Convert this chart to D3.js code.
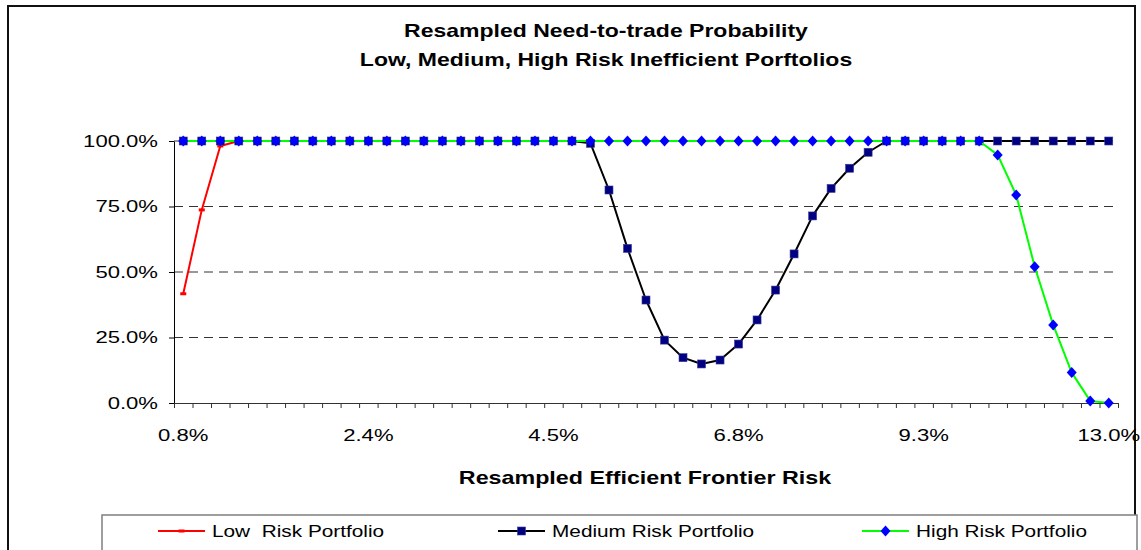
<!DOCTYPE html>
<html><head><meta charset="utf-8">
<script src="https://cdn.jsdelivr.net/npm/d3@7"></script>
<style>
body{margin:0;background:#fff;}
svg text{font-family:"Liberation Sans",Arial,sans-serif;fill:#000;}
</style>
</head><body>
<svg id="chart" width="1141" height="550"></svg>
<script>
// ---------- data ----------
const titleLines = ["Resampled Need-to-trade Probability", "Low, Medium, High Risk Inefficient Porftolios"];
const xAxisTitle = "Resampled Efficient Frontier Risk";
const categoryCount = 51;
const tickLabels = ["0.8%", "2.4%", "4.5%", "6.8%", "9.3%", "13.0%"];
const tickLabelIndex = [0, 10, 20, 30, 40, 50];
const yTicks = [0, 0.25, 0.5, 0.75, 1];
const seriesNames = ["Low  Risk Portfolio", "Medium Risk Portfolio", "High Risk Portfolio"];

const lowRisk = [
  0.417,0.737,0.981,1,1,1,1,1,1,1,
  1,1,1,1,1,1,1,1,1,1,
  1,1,1,1,1,1,1,1,1,1,
  1,1,1,1,1,1,1,1,1,1,
  1,1,1,1,1,1,1,1,1,1,
  1
];
const mediumRisk = [
  1,1,1,1,1,1,1,1,1,1,
  1,1,1,1,1,1,1,1,1,1,
  1,1,0.991,0.813,0.590,0.393,0.240,0.173,0.149,0.164,
  0.225,0.317,0.431,0.569,0.714,0.819,0.896,0.957,1,1,
  1,1,1,1,1,1,1,1,1,1,
  1
];
const highRisk = [
  1,1,1,1,1,1,1,1,1,1,
  1,1,1,1,1,1,1,1,1,1,
  1,1,1,1,1,1,1,1,1,1,
  1,1,1,1,1,1,1,1,1,1,
  1,1,1,1,0.947,0.794,0.520,0.298,0.116,0.008,
  0
];

// ---------- layout ----------
const plot = {left: 174, right: 1118, top: 141, bottom: 403};
const SX = 1.3; // horizontal text stretch of the reference

const svg = d3.select("#chart");

const cats = d3.range(categoryCount);
const x = d3.scaleBand().domain(cats).range([plot.left, plot.right]).padding(0);
const xb = d3.scaleLinear().domain([0, categoryCount]).range([plot.left, plot.right]);
const y = d3.scaleLinear().domain([0, 1]).range([plot.bottom, plot.top]);
const cx = i => x(i) + x.bandwidth() / 2;

// outer chart border
svg.append("rect").attr("x", 8).attr("y", 6).attr("width", 1127).attr("height", 620)
  .attr("fill", "#fff").attr("stroke", "#111").attr("stroke-width", 2);

// title
const titleSizes = [17.7, 17.7];
const titleBase = [37, 66];
titleLines.forEach((t, k) => {
  svg.append("text").text(t)
    .attr("text-anchor", "middle").attr("font-weight", "bold").attr("font-size", titleSizes[k])
    .attr("transform", `translate(606,${titleBase[k]}) scale(${SX},1)`);
});

// gridlines
svg.append("g").selectAll("line").data(yTicks.filter(d => d > 0)).join("line")
  .attr("x1", plot.left).attr("x2", plot.right)
  .attr("y1", d => y(d)).attr("y2", d => y(d))
  .attr("stroke", "#333").attr("stroke-width", 1).attr("stroke-dasharray", "9,6");

// y axis
const yAxis = svg.append("g").attr("transform", `translate(${plot.left},0)`)
  .call(d3.axisLeft(y).tickValues(yTicks).tickFormat(d3.format(".1%")).tickSize(5).tickSizeOuter(0).tickPadding(16 / SX - 5));
yAxis.select(".domain").attr("stroke", "#000");
yAxis.selectAll(".tick line").attr("stroke", "#000");
yAxis.selectAll("text").attr("font-size", 17).attr("font-family", null).attr("transform", `scale(${SX},1)`);

// x axis: boundary ticks
const xTickAxis = svg.append("g").attr("transform", `translate(0,${plot.bottom})`)
  .call(d3.axisBottom(xb).tickValues(d3.range(categoryCount + 1)).tickFormat("").tickSize(5).tickSizeOuter(0));
xTickAxis.select(".domain").attr("stroke", "#333");
xTickAxis.selectAll(".tick line").attr("stroke", "#333");

// x axis: labels
const xLabelAxis = svg.append("g").attr("transform", `translate(0,${plot.bottom})`)
  .call(d3.axisBottom(x).tickValues(tickLabelIndex).tickFormat((d, i) => tickLabels[i]).tickSize(0).tickPadding(26));
xLabelAxis.select(".domain").remove();
xLabelAxis.selectAll("text").attr("font-size", 17).attr("font-family", null).attr("transform", `scale(${SX},1)`);

// x axis title
svg.append("text").text(xAxisTitle)
  .attr("text-anchor", "middle").attr("font-weight", "bold").attr("font-size", 17.9)
  .attr("transform", `translate(645,484) scale(${SX},1)`);

// series
const line = d3.line().x((d, i) => cx(i)).y(d => y(d));
const seriesDefs = [
  {name: seriesNames[0], data: lowRisk, color: "#ff0000", marker: "dash"},
  {name: seriesNames[1], data: mediumRisk, color: "#000000", marker: "square"},
  {name: seriesNames[2], data: highRisk, color: "#00ff00", marker: "diamond"}
];
const diamondPath = "M0,-5.5L5,0L0,5.5L-5,0Z";

function drawMarker(g, type) {
  if (type === "dash") {
    g.append("rect").attr("x", -3).attr("y", -1.5).attr("width", 6).attr("height", 3).attr("fill", "#ff0000");
  } else if (type === "square") {
    g.append("rect").attr("x", -4).attr("y", -4).attr("width", 8).attr("height", 8)
      .attr("fill", "#000080").attr("stroke", "#3a3a9a").attr("stroke-width", 0.6);
  } else {
    g.append("path").attr("d", diamondPath).attr("fill", "#0000ff");
  }
}

seriesDefs.forEach(s => {
  const g = svg.append("g");
  g.append("path").datum(s.data).attr("d", line)
    .attr("fill", "none").attr("stroke", s.color).attr("stroke-width", 2).attr("stroke-linejoin", "round");
  g.selectAll("g.m").data(s.data).join("g").attr("class", "m")
    .attr("transform", (d, i) => `translate(${cx(i)},${y(d)})`)
    .each(function () { drawMarker(d3.select(this), s.marker); });
});

// legend
svg.append("rect").attr("x", 102).attr("y", 515).attr("width", 1035).attr("height", 60)
  .attr("fill", "#fff").attr("stroke", "#7f7f7f").attr("stroke-width", 1.5);
const legendX = [158, 498, 862];
seriesDefs.forEach((s, k) => {
  const g = svg.append("g").attr("transform", `translate(${legendX[k]},531)`);
  g.append("line").attr("x1", 0).attr("x2", 47).attr("y1", 0).attr("y2", 0)
    .attr("stroke", s.color).attr("stroke-width", 2);
  const m = g.append("g").attr("transform", "translate(23.5,0)");
  drawMarker(m, s.marker);
  g.append("text").text(s.name).attr("font-size", 16).style("white-space", "pre")
    .attr("transform", `translate(54,6) scale(${SX},1)`);
});
</script>
</body></html>
